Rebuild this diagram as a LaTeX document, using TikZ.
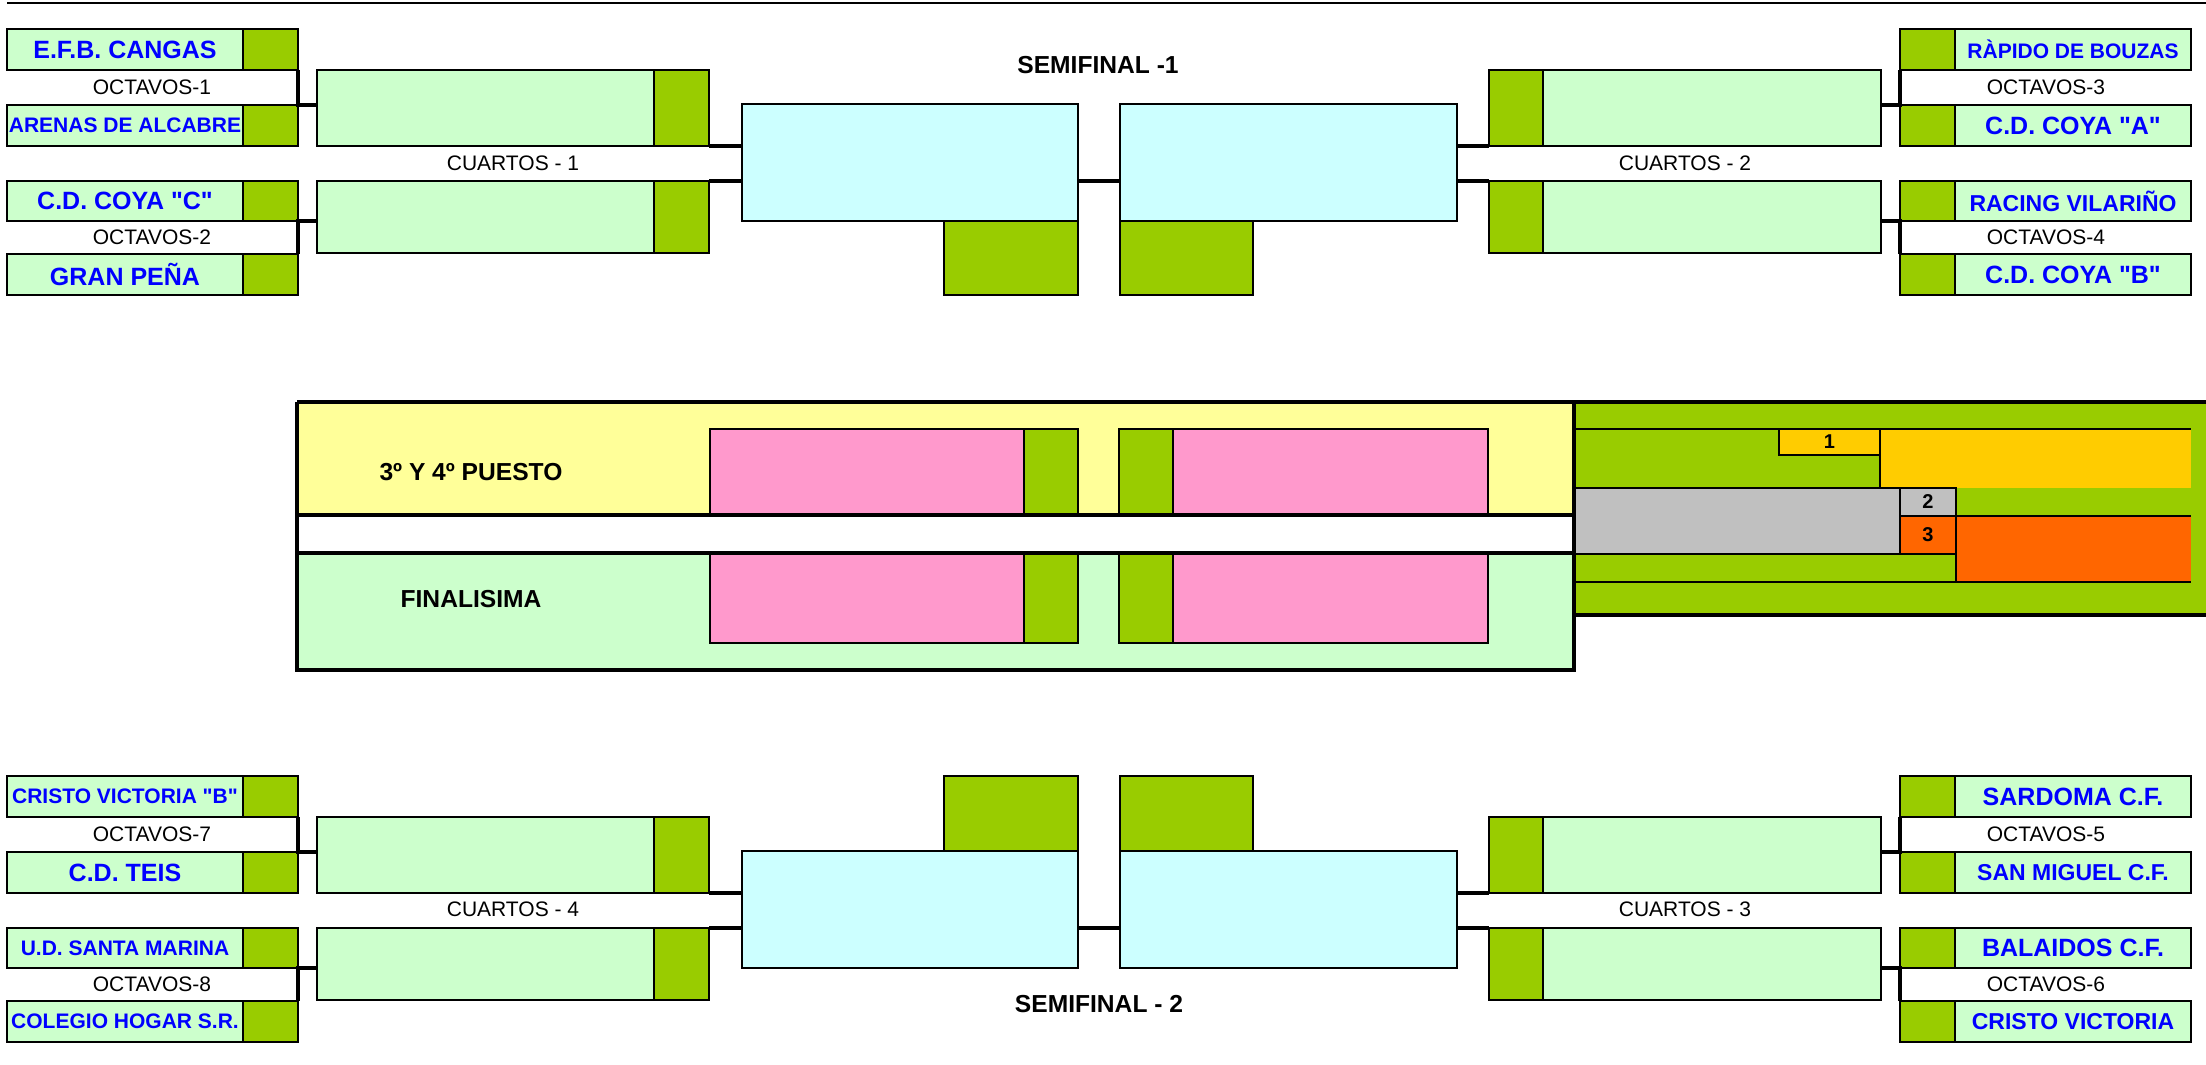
\documentclass[tikz,border=0pt]{standalone}
\usepackage{fontspec}
\setmainfont{Liberation Sans}[Ligatures=TeXOff]
\usetikzlibrary{fit}
\definecolor{lg}{HTML}{CCFFCC}
\definecolor{dg}{HTML}{99CC00}
\definecolor{cy}{HTML}{CCFFFF}
\definecolor{ye}{HTML}{FFFF99}
\definecolor{pk}{HTML}{FF99CC}
\definecolor{go}{HTML}{FFCC00}
\definecolor{gy}{HTML}{C0C0C0}
\definecolor{orng}{HTML}{FF6600}
\definecolor{bl}{HTML}{0000FF}
\newcommand\tfs[1]{\fontsize{#1}{#1}\selectfont}
\tikzset{
 base/.style={inner sep=0pt, outer sep=0pt},
 lgb/.style={base, fill=lg, draw=black, line width=1.45pt},
 dgb/.style={base, fill=dg, draw=black, line width=1.45pt},
 cyb/.style={base, fill=cy, draw=black, line width=1.45pt},
 pkb/.style={base, fill=pk, draw=black, line width=1.45pt},
 numb/.style={base, draw=black, line width=1.4pt},
 numt/.style={base, font=\bfseries\tfs{10}},
 team/.style={base, text=bl, font=\bfseries},
 lbl/.style={base, font=\tfs{10.5}},
 hdr/.style={base, font=\bfseries\tfs{12.3}},
 conn/.style={line width=1.6pt},
 stub/.style={line width=2pt},
 heavy/.style={line width=2.25pt},
 pline/.style={line width=1.4pt},
}
\newcommand\teamL[5]{\node[lgb, fit={(7,#2) (243,#3)}] (#1) {};\node[dgb, fit={(243,#2) (298,#3)}] (#1g) {};\node[team] (#1t) at (#1.center) {\tfs{#4}#5};}
\newcommand\teamR[5]{\node[lgb, fit={(1955,#2) (2191,#3)}] (#1) {};\node[dgb, fit={(1900,#2) (1955,#3)}] (#1g) {};\node[team] (#1t) at (#1.center) {\tfs{#4}#5};}
\newcommand\quL[3]{\node[lgb, fit={(317,#2) (709,#3)}] (#1) {};\node[dgb, fit={(654,#2) (709,#3)}] (#1g) {};}
\newcommand\quR[3]{\node[lgb, fit={(1489,#2) (1881,#3)}] (#1) {};\node[dgb, fit={(1489,#2) (1543,#3)}] (#1g) {};}
\begin{document}
\begin{tikzpicture}[x=0.5pt,y=-0.5pt]
\useasboundingbox (0,0) rectangle (2206,1065);
\coordinate (tl) at (7,3);
\coordinate (tr) at (2206,3);
\draw[line width=1.35pt] (tl) -- (tr);

% ===== TOP HALF =====
\teamL{ta}{29}{70}{12.5}{E.F.B. CANGAS}
\teamL{tb}{105}{146}{10.5}{ARENAS DE ALCABRE}
\teamL{tc}{181}{221}{12.5}{C.D. COYA "C"}
\teamL{td}{254}{295}{12.5}{GRAN PEÑA}
\teamR{ra}{29}{70}{10.5}{RÀPIDO DE BOUZAS}
\teamR{rb}{105}{146}{12.5}{C.D. COYA "A"}
\teamR{rc}{181}{221}{11.5}{RACING VILARIÑO}
\teamR{rd}{254}{295}{12.5}{C.D. COYA "B"}
\node[lbl] (o1) at (152,87) {OCTAVOS-1};
\node[lbl] (o2) at (152,237.5) {OCTAVOS-2};
\node[lbl] (o3) at (2046,87) {OCTAVOS-3};
\node[lbl] (o4) at (2046,237.5) {OCTAVOS-4};
\quL{qa}{70}{146}
\quL{qb}{181}{253}
\quR{qc}{70}{146}
\quR{qd}{181}{253}
\node[lbl] (c1) at (513,163.5) {CUARTOS - 1};
\node[lbl] (c2) at (1685,163.5) {CUARTOS - 2};
\node[cyb, fit={(742,104) (1078,221)}] (sa) {};
\node[cyb, fit={(1120,104) (1457,221)}] (sb) {};
\node[dgb, fit={(944,221) (1078,295)}] (wa) {};
\node[dgb, fit={(1120,221) (1253,295)}] (wb) {};
\node[hdr] (sf1) at (1098,65) {SEMIFINAL -1};
% connectors top
\draw[conn] (tag.south east) -- (tbg.north east) -- (qa.west |- tbg.north east);
\draw[conn] (tdg.north east) -- (tcg.south east) -- (qb.west |- tcg.south east);
\draw[conn] (rag.south west) -- (rbg.north west) -- (qc.east |- rbg.north west);
\draw[conn] (rdg.north west) -- (rcg.south west) -- (qd.east |- rcg.south west);
\draw[stub] (qa.south east) -- (sa.west |- qa.south east);
\draw[stub] (qb.north east) -- (sa.west |- qb.north east);
\draw[stub] (qc.south west) -- (sb.east |- qc.south west);
\draw[stub] (qd.north west) -- (sb.east |- qd.north west);
\draw[stub] (sa.east |- qb.north) -- (sb.west |- qb.north);

% ===== BOTTOM HALF =====
\teamL{tE}{776}{817}{10.5}{CRISTO VICTORIA "B"}
\teamL{tF}{852}{893}{12.5}{C.D. TEIS}
\teamL{tG}{928}{968}{10.5}{U.D. SANTA MARINA}
\teamL{tH}{1001}{1042}{10.5}{COLEGIO HOGAR S.R.}
\teamR{rE}{776}{817}{12.5}{SARDOMA C.F.}
\teamR{rF}{852}{893}{11.5}{SAN MIGUEL C.F.}
\teamR{rG}{928}{968}{12.5}{BALAIDOS C.F.}
\teamR{rH}{1001}{1042}{11.5}{CRISTO VICTORIA}
\node[lbl] (o7) at (152,834) {OCTAVOS-7};
\node[lbl] (o8) at (152,984) {OCTAVOS-8};
\node[lbl] (o5) at (2046,834) {OCTAVOS-5};
\node[lbl] (o6) at (2046,984) {OCTAVOS-6};
\quL{qE}{817}{893}
\quL{qF}{928}{1000}
\quR{qG}{817}{893}
\quR{qH}{928}{1000}
\node[lbl] (c4) at (513,909.5) {CUARTOS - 4};
\node[lbl] (c3) at (1685,909.5) {CUARTOS - 3};
\node[cyb, fit={(742,851) (1078,968)}] (sc) {};
\node[cyb, fit={(1120,851) (1457,968)}] (sd) {};
\node[dgb, fit={(944,776) (1078,851)}] (wc) {};
\node[dgb, fit={(1120,776) (1253,851)}] (wd) {};
\node[hdr] (sf2) at (1099,1004) {SEMIFINAL - 2};
\draw[conn] (tEg.south east) -- (tFg.north east) -- (qE.west |- tFg.north east);
\draw[conn] (tHg.north east) -- (tGg.south east) -- (qF.west |- tGg.south east);
\draw[conn] (rEg.south west) -- (rFg.north west) -- (qG.east |- rFg.north west);
\draw[conn] (rHg.north west) -- (rGg.south west) -- (qH.east |- rGg.south west);
\draw[stub] (qE.south east) -- (sc.west |- qE.south east);
\draw[stub] (qF.north east) -- (sc.west |- qF.north east);
\draw[stub] (qG.south west) -- (sd.east |- qG.south west);
\draw[stub] (qH.north west) -- (sd.east |- qH.north west);
\draw[stub] (sc.east |- qF.north) -- (sd.west |- qF.north);

% ===== MIDDLE =====
\node[base, fill=ye, fit={(297,402) (1574,515)}] (m3) {};
\node[base, fill=white, fit={(297,515) (1574,553)}] (mw) {};
\node[base, fill=lg, fit={(297,553) (1574,670)}] (mf) {};
\node[pkb, fit={(710,429) (1024,515)}] (p1) {};
\node[dgb, fit={(1024,429) (1078,515)}] (p1g) {};
\node[dgb, fit={(1119,429) (1173,515)}] (p2g) {};
\node[pkb, fit={(1173,429) (1488,515)}] (p2) {};
\node[pkb, fit={(710,553) (1024,643)}] (p3) {};
\node[dgb, fit={(1024,553) (1078,643)}] (p3g) {};
\node[dgb, fit={(1119,553) (1173,643)}] (p4g) {};
\node[pkb, fit={(1173,553) (1488,643)}] (p4) {};
\node[hdr] (t34) at (471,472) {3º Y 4º PUESTO};
\node[hdr] (tfin) at (471,599) {FINALISIMA};
% right panel
\node[base, fill=dg, fit={(1574,402) (2206,615)}] (pn) {};
\node[base, fill=go, fit={(1880,429) (2191,488)}] (gold) {};
\node[base, fill=gy, fit={(1574,488) (1900,554)}] (grey) {};
\node[base, fill=orng, fit={(1956,516) (2191,582)}] (oran) {};
\node[numb, fill=go, fit={(1779,429) (1880,455)}] (n1) {};
\node[numb, fill=gy, fit={(1900,488) (1956,516)}] (n2) {};
\node[numb, fill=orng, fit={(1900,516) (1956,554)}] (n3) {};
\node[numt] (n1t) at (n1.center) {1};
\node[numt] (n2t) at (n2.center) {2};
\node[numt] (n3t) at (n3.center) {3};
\draw[pline] (pn.north west |- gold.north) -- (gold.north east);
\draw[pline] (gold.north west) -- (gold.south west);
\draw[pline] (grey.north west) -- (n2.north east);
\draw[pline] (n3.north west) -- (oran.north east);
\draw[pline] (grey.south west) -- (n3.south east);
\draw[pline] (n2.north east) -- (n2.north east |- oran.south);
\draw[pline] (pn.west |- oran.south) -- (oran.south east);
\draw[pline] (n2.north west) -- (n3.south west);
% heavy borders
\draw[heavy] (m3.south west) -- (m3.south east);
\draw[heavy] (mf.north west) -- (mf.north east);
\draw[heavy] (m3.north west) -- (pn.north east);
\draw[heavy] (pn.south west) -- (pn.south east);
\draw[heavy] (m3.north west) -- (mf.south west) -- (mf.south east) -- (m3.north east);
\end{tikzpicture}
\end{document}
